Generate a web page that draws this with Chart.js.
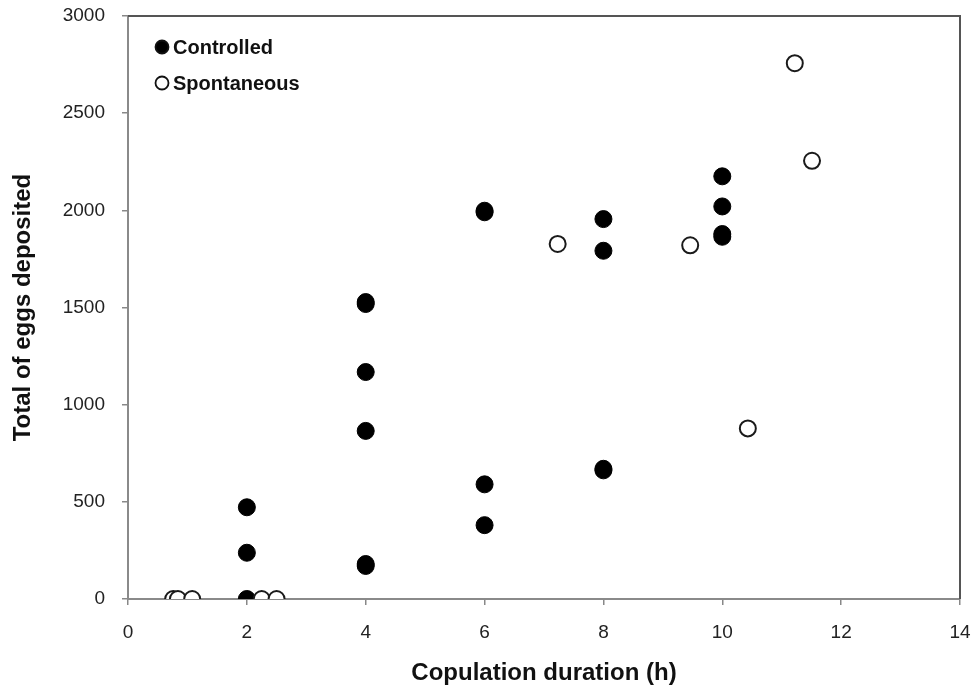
<!DOCTYPE html>
<html>
<head>
<meta charset="utf-8">
<script src="https://cdn.jsdelivr.net/npm/chart.js@4"></script>
<style>
  body { margin: 0; background: #fff; }
  #wrap { width: 975px; height: 689px; position: relative; }
</style>
</head>
<body>
<div id="wrap"><canvas id="chart"></canvas></div>
<script>
// data (some dots are two points almost on top of each other)
const ctrlX = [2, 2, 2, 4, 4, 4, 4, 4, 4, 6, 6, 6, 6, 8, 8, 8, 8, 10, 10, 10, 10];
const ctrlY = [472, 238, 0, 1528, 1518, 1168, 865, 180, 170, 1998, 1990, 590, 380, 1955, 1792, 670, 662, 2175, 2020, 1878, 1864];
const spontX = [0.76, 0.84, 1.08, 2.25, 2.5, 7.23, 9.46, 10.43, 11.22, 11.51];
const spontY = [0, 0, 0, 0, 0, 1827, 1820, 878, 2757, 2255];
const xTicks = [0, 2, 4, 6, 8, 10, 12, 14];
const yTicks = [0, 500, 1000, 1500, 2000, 2500, 3000];
const seriesNames = ['Controlled', 'Spontaneous'];

const ctrlData = ctrlX.map((x, i) => ({ x: x, y: ctrlY[i] }));
const spontData = spontX.map((x, i) => ({ x: x, y: spontY[i] }));

// frame on top/right + legend inside the plot
const framePlugin = {
  id: 'frame',
  beforeDatasetsDraw(chart) {
    const { ctx, chartArea: a } = chart;
    ctx.save();
    ctx.strokeStyle = '#555';
    ctx.lineWidth = 2;
    ctx.beginPath();
    ctx.moveTo(a.left, a.top);
    ctx.lineTo(a.right, a.top);
    ctx.lineTo(a.right, a.bottom);
    ctx.stroke();
    ctx.restore();
  },
  afterDraw(chart) {
    const { ctx } = chart;
    ctx.save();
    ctx.font = 'bold 20px Arial, "Liberation Sans", sans-serif';
    ctx.textBaseline = 'middle';
    chart.data.datasets.forEach((ds, i) => {
      const y = 47 + i * 36;
      ctx.beginPath();
      ctx.arc(162, y, 6.5, 0, Math.PI * 2);
      ctx.fillStyle = ds.backgroundColor;
      ctx.fill();
      ctx.lineWidth = 1.8;
      ctx.strokeStyle = '#111';
      ctx.stroke();
      ctx.fillStyle = '#111';
      ctx.fillText(ds.label, 173, y + 1);
    });
    ctx.restore();
  }
};

new Chart(document.getElementById('chart'), {
  type: 'scatter',
  data: {
    datasets: [
      {
        label: seriesNames[0],
        data: ctrlData,
        backgroundColor: '#000',
        borderColor: '#000',
        borderWidth: 1,
        pointRadius: 8.5,
        pointHoverRadius: 8.5,
        order: 1
      },
      {
        label: seriesNames[1],
        data: spontData,
        backgroundColor: '#fff',
        borderColor: '#1a1a1a',
        borderWidth: 2,
        pointRadius: 8,
        pointHoverRadius: 8,
        order: 0
      }
    ]
  },
  options: {
    responsive: true,
    maintainAspectRatio: false,
    animation: false,
    layout: { padding: { left: 0, right: 15, top: 16, bottom: 0 } },
    plugins: {
      legend: { display: false },
      tooltip: { enabled: false }
    },
    scales: {
      x: {
        type: 'linear',
        min: 0,
        max: 14,
        afterBuildTicks: s => { s.ticks = xTicks.map(v => ({ value: v })); },
        afterFit: s => { s.height = 90; s.paddingLeft = 0; s.paddingRight = 0; },
        grid: { drawOnChartArea: false, drawTicks: true, tickLength: 6, color: '#888', lineWidth: 1.5 },
        border: { display: true, color: '#8a8a8a', width: 2 },
        ticks: {
          color: '#222', padding: 16,
          callback: v => String(v),
          font: { size: 19, family: 'Arial, "Liberation Sans", sans-serif' }
        },
        title: {
          display: true,
          text: 'Copulation duration (h)',
          color: '#111',
          padding: { top: 0, bottom: 1 },
          font: { size: 24, weight: 'bold', family: 'Arial, "Liberation Sans", sans-serif' }
        }
      },
      y: {
        type: 'linear',
        min: 0,
        max: 3000,
        afterBuildTicks: s => { s.ticks = yTicks.map(v => ({ value: v })); },
        afterFit: s => { s.width = 128; s.paddingTop = 0; s.paddingBottom = 0; },
        grid: { drawOnChartArea: false, drawTicks: true, tickLength: 6, color: '#888', lineWidth: 1.5 },
        border: { display: true, color: '#8a8a8a', width: 2 },
        ticks: {
          color: '#222', padding: 17,
          callback: v => String(v),
          font: { size: 19, family: 'Arial, "Liberation Sans", sans-serif' }
        },
        title: {
          display: true,
          text: 'Total of eggs deposited',
          color: '#111',
          padding: { top: 9, bottom: 0 },
          font: { size: 24, weight: 'bold', family: 'Arial, "Liberation Sans", sans-serif' }
        }
      }
    }
  },
  plugins: [framePlugin]
});
</script>
</body>
</html>
